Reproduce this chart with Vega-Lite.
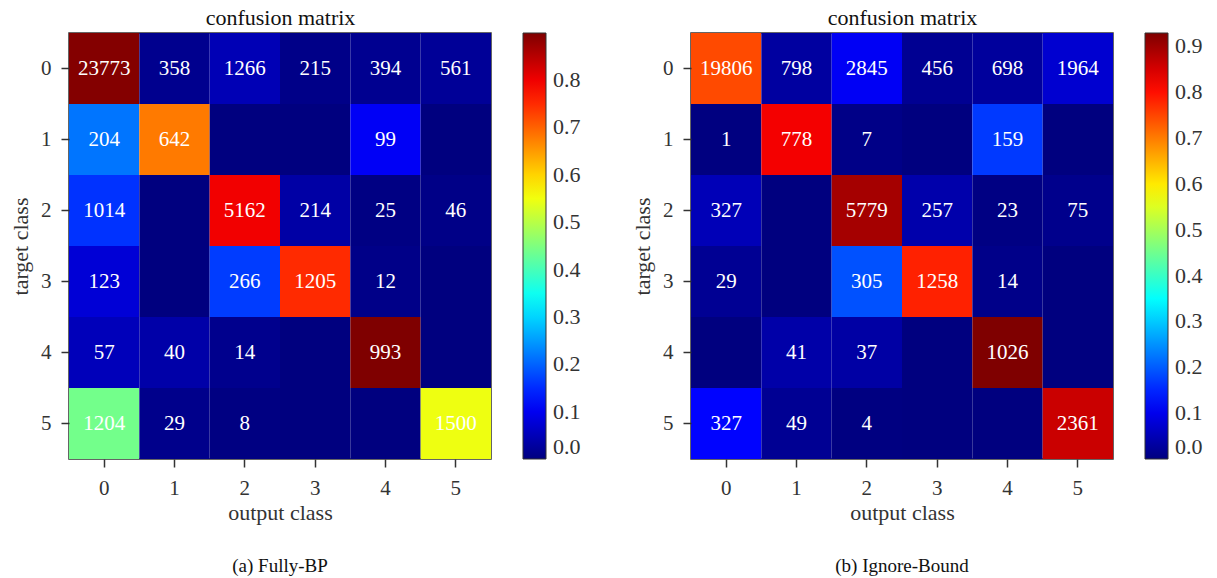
{
  "$schema": "https://vega.github.io/schema/vega-lite/v6.json",
  "padding": {"left": 8, "top": 5, "right": 5, "bottom": 5},
  "background": "white",
  "config": {
    "font": "Liberation Serif",
    "view": {"stroke": "#333333", "strokeWidth": 1.5},
    "axis": {"labelFont": "Liberation Serif", "titleFont": "Liberation Serif", "labelFontSize": 21, "titleFontSize": 22, "labelColor": "#333333", "titleColor": "#333333", "titleFontWeight": "normal", "tickColor": "#333333", "domainColor": "#333333", "grid": false, "tickSize": 8, "tickWidth": 1.5, "labelPadding": 10},
    "legend": {"labelFont": "Liberation Serif", "labelFontSize": 22, "labelColor": "#333333"},
    "title": {"font": "Liberation Serif", "fontSize": 19, "fontWeight": "normal", "color": "#111111"},
    "concat": {"spacing": 48}
  },
  "datasets": {
    "a": [
      {"target": 0, "output": 0, "count": 23773, "rate": 0.8948},
      {"target": 0, "output": 1, "count": 358, "rate": 0.01348},
      {"target": 0, "output": 2, "count": 1266, "rate": 0.04765},
      {"target": 0, "output": 3, "count": 215, "rate": 0.00809},
      {"target": 0, "output": 4, "count": 394, "rate": 0.01483},
      {"target": 0, "output": 5, "count": 561, "rate": 0.02112},
      {"target": 1, "output": 0, "count": 204, "rate": 0.2159},
      {"target": 1, "output": 1, "count": 642, "rate": 0.6794},
      {"target": 1, "output": 2, "count": 0, "rate": 0},
      {"target": 1, "output": 3, "count": 0, "rate": 0},
      {"target": 1, "output": 4, "count": 99, "rate": 0.1048},
      {"target": 1, "output": 5, "count": 0, "rate": 0},
      {"target": 2, "output": 0, "count": 1014, "rate": 0.1569},
      {"target": 2, "output": 1, "count": 0, "rate": 0},
      {"target": 2, "output": 2, "count": 5162, "rate": 0.7989},
      {"target": 2, "output": 3, "count": 214, "rate": 0.0331},
      {"target": 2, "output": 4, "count": 25, "rate": 0.00387},
      {"target": 2, "output": 5, "count": 46, "rate": 0.00712},
      {"target": 3, "output": 0, "count": 123, "rate": 0.0766},
      {"target": 3, "output": 1, "count": 0, "rate": 0},
      {"target": 3, "output": 2, "count": 266, "rate": 0.1656},
      {"target": 3, "output": 3, "count": 1205, "rate": 0.7503},
      {"target": 3, "output": 4, "count": 12, "rate": 0.00747},
      {"target": 3, "output": 5, "count": 0, "rate": 0},
      {"target": 4, "output": 0, "count": 57, "rate": 0.0516},
      {"target": 4, "output": 1, "count": 40, "rate": 0.0362},
      {"target": 4, "output": 2, "count": 14, "rate": 0.01268},
      {"target": 4, "output": 3, "count": 0, "rate": 0},
      {"target": 4, "output": 4, "count": 993, "rate": 0.8995},
      {"target": 4, "output": 5, "count": 0, "rate": 0},
      {"target": 5, "output": 0, "count": 1204, "rate": 0.4393},
      {"target": 5, "output": 1, "count": 29, "rate": 0.01058},
      {"target": 5, "output": 2, "count": 8, "rate": 0.00292},
      {"target": 5, "output": 3, "count": 0, "rate": 0},
      {"target": 5, "output": 4, "count": 0, "rate": 0},
      {"target": 5, "output": 5, "count": 1500, "rate": 0.5472}
    ],
    "b": [
      {"target": 0, "output": 0, "count": 19806, "rate": 0.7455},
      {"target": 0, "output": 1, "count": 798, "rate": 0.03004},
      {"target": 0, "output": 2, "count": 2845, "rate": 0.1071},
      {"target": 0, "output": 3, "count": 456, "rate": 0.01716},
      {"target": 0, "output": 4, "count": 698, "rate": 0.02627},
      {"target": 0, "output": 5, "count": 1964, "rate": 0.07393},
      {"target": 1, "output": 0, "count": 1, "rate": 0.00106},
      {"target": 1, "output": 1, "count": 778, "rate": 0.8233},
      {"target": 1, "output": 2, "count": 7, "rate": 0.00741},
      {"target": 1, "output": 3, "count": 0, "rate": 0},
      {"target": 1, "output": 4, "count": 159, "rate": 0.1683},
      {"target": 1, "output": 5, "count": 0, "rate": 0},
      {"target": 2, "output": 0, "count": 327, "rate": 0.0506},
      {"target": 2, "output": 1, "count": 0, "rate": 0},
      {"target": 2, "output": 2, "count": 5779, "rate": 0.8944},
      {"target": 2, "output": 3, "count": 257, "rate": 0.0398},
      {"target": 2, "output": 4, "count": 23, "rate": 0.00356},
      {"target": 2, "output": 5, "count": 75, "rate": 0.01161},
      {"target": 3, "output": 0, "count": 29, "rate": 0.01806},
      {"target": 3, "output": 1, "count": 0, "rate": 0},
      {"target": 3, "output": 2, "count": 305, "rate": 0.1899},
      {"target": 3, "output": 3, "count": 1258, "rate": 0.7833},
      {"target": 3, "output": 4, "count": 14, "rate": 0.00872},
      {"target": 3, "output": 5, "count": 0, "rate": 0},
      {"target": 4, "output": 0, "count": 0, "rate": 0},
      {"target": 4, "output": 1, "count": 41, "rate": 0.03714},
      {"target": 4, "output": 2, "count": 37, "rate": 0.03351},
      {"target": 4, "output": 3, "count": 0, "rate": 0},
      {"target": 4, "output": 4, "count": 1026, "rate": 0.9293},
      {"target": 4, "output": 5, "count": 0, "rate": 0},
      {"target": 5, "output": 0, "count": 327, "rate": 0.1193},
      {"target": 5, "output": 1, "count": 49, "rate": 0.01788},
      {"target": 5, "output": 2, "count": 4, "rate": 0.00146},
      {"target": 5, "output": 3, "count": 0, "rate": 0},
      {"target": 5, "output": 4, "count": 0, "rate": 0},
      {"target": 5, "output": 5, "count": 2361, "rate": 0.8614}
    ]
  },
  "hconcat": [
    {
      "width": 422,
      "height": 426,
      "data": {"name": "a"},
      "title": {"text": "(a)  Fully-BP", "orient": "bottom", "offset": 34, "fontSize": 19, "color": "#111111"},
      "resolve": {"axis": {"x": "independent"}},
      "layer": [
        {
          "mark": {"type": "rect"},
          "encoding": {
            "x": {"field": "output", "type": "ordinal", "scale": {"paddingInner": 0, "paddingOuter": 0}, "axis": {"title": "output class", "labelAngle": 0, "domain": false, "titlePadding": 4}},
            "y": {"field": "target", "type": "ordinal", "scale": {"paddingInner": 0, "paddingOuter": 0}, "axis": {"title": "target class", "domain": false, "titlePadding": 8}},
            "color": {"field": "rate", "type": "quantitative",
              "scale": {"type": "linear", "domain": [0, 0.8995], "nice": false, "interpolate": "rgb", "range": ["#00007f", "#0000ff", "#007fff", "#00ffff", "#7fff7f", "#ffff00", "#ff7f00", "#ff0000", "#7f0000"]},
              "legend": {"title": null, "gradientLength": 426, "gradientThickness": 23, "offset": 32, "values": [0, 0.1, 0.2, 0.3, 0.4, 0.5, 0.6, 0.7, 0.8], "format": ".1f", "gradientStrokeColor": "#333333", "gradientStrokeWidth": 1, "labelOffset": 7, "labelFont": "Liberation Serif", "labelFontSize": 22}}
          }
        },
        {
          "transform": [{"filter": "datum.count > 0"}],
          "mark": {"type": "text", "color": "white", "fontSize": 21, "font": "Liberation Serif"},
          "encoding": {
            "x": {"field": "output", "type": "ordinal", "axis": {"orient": "top", "title": "confusion matrix", "labels": false, "ticks": false, "domain": false, "titlePadding": 4, "titleFontSize": 22, "titleColor": "#111111"}},
            "y": {"field": "target", "type": "ordinal"},
            "text": {"field": "count", "type": "quantitative"}
          }
        }
      ]
    },
    {
      "width": 422,
      "height": 426,
      "data": {"name": "b"},
      "title": {"text": "(b)  Ignore-Bound", "orient": "bottom", "offset": 34, "fontSize": 19, "color": "#111111"},
      "resolve": {"axis": {"x": "independent"}},
      "layer": [
        {
          "mark": {"type": "rect"},
          "encoding": {
            "x": {"field": "output", "type": "ordinal", "scale": {"paddingInner": 0, "paddingOuter": 0}, "axis": {"title": "output class", "labelAngle": 0, "domain": false, "titlePadding": 4}},
            "y": {"field": "target", "type": "ordinal", "scale": {"paddingInner": 0, "paddingOuter": 0}, "axis": {"title": "target class", "domain": false, "titlePadding": 8}},
            "color": {"field": "rate", "type": "quantitative",
              "scale": {"type": "linear", "domain": [0, 0.9293], "nice": false, "interpolate": "rgb", "range": ["#00007f", "#0000ff", "#007fff", "#00ffff", "#7fff7f", "#ffff00", "#ff7f00", "#ff0000", "#7f0000"]},
              "legend": {"title": null, "gradientLength": 426, "gradientThickness": 23, "offset": 32, "values": [0, 0.1, 0.2, 0.3, 0.4, 0.5, 0.6, 0.7, 0.8, 0.9], "format": ".1f", "gradientStrokeColor": "#333333", "gradientStrokeWidth": 1, "labelOffset": 7, "labelFont": "Liberation Serif", "labelFontSize": 22}}
          }
        },
        {
          "transform": [{"filter": "datum.count > 0"}],
          "mark": {"type": "text", "color": "white", "fontSize": 21, "font": "Liberation Serif"},
          "encoding": {
            "x": {"field": "output", "type": "ordinal", "axis": {"orient": "top", "title": "confusion matrix", "labels": false, "ticks": false, "domain": false, "titlePadding": 4, "titleFontSize": 22, "titleColor": "#111111"}},
            "y": {"field": "target", "type": "ordinal"},
            "text": {"field": "count", "type": "quantitative"}
          }
        }
      ]
    }
  ],
  "resolve": {"scale": {"color": "independent"}}
}
